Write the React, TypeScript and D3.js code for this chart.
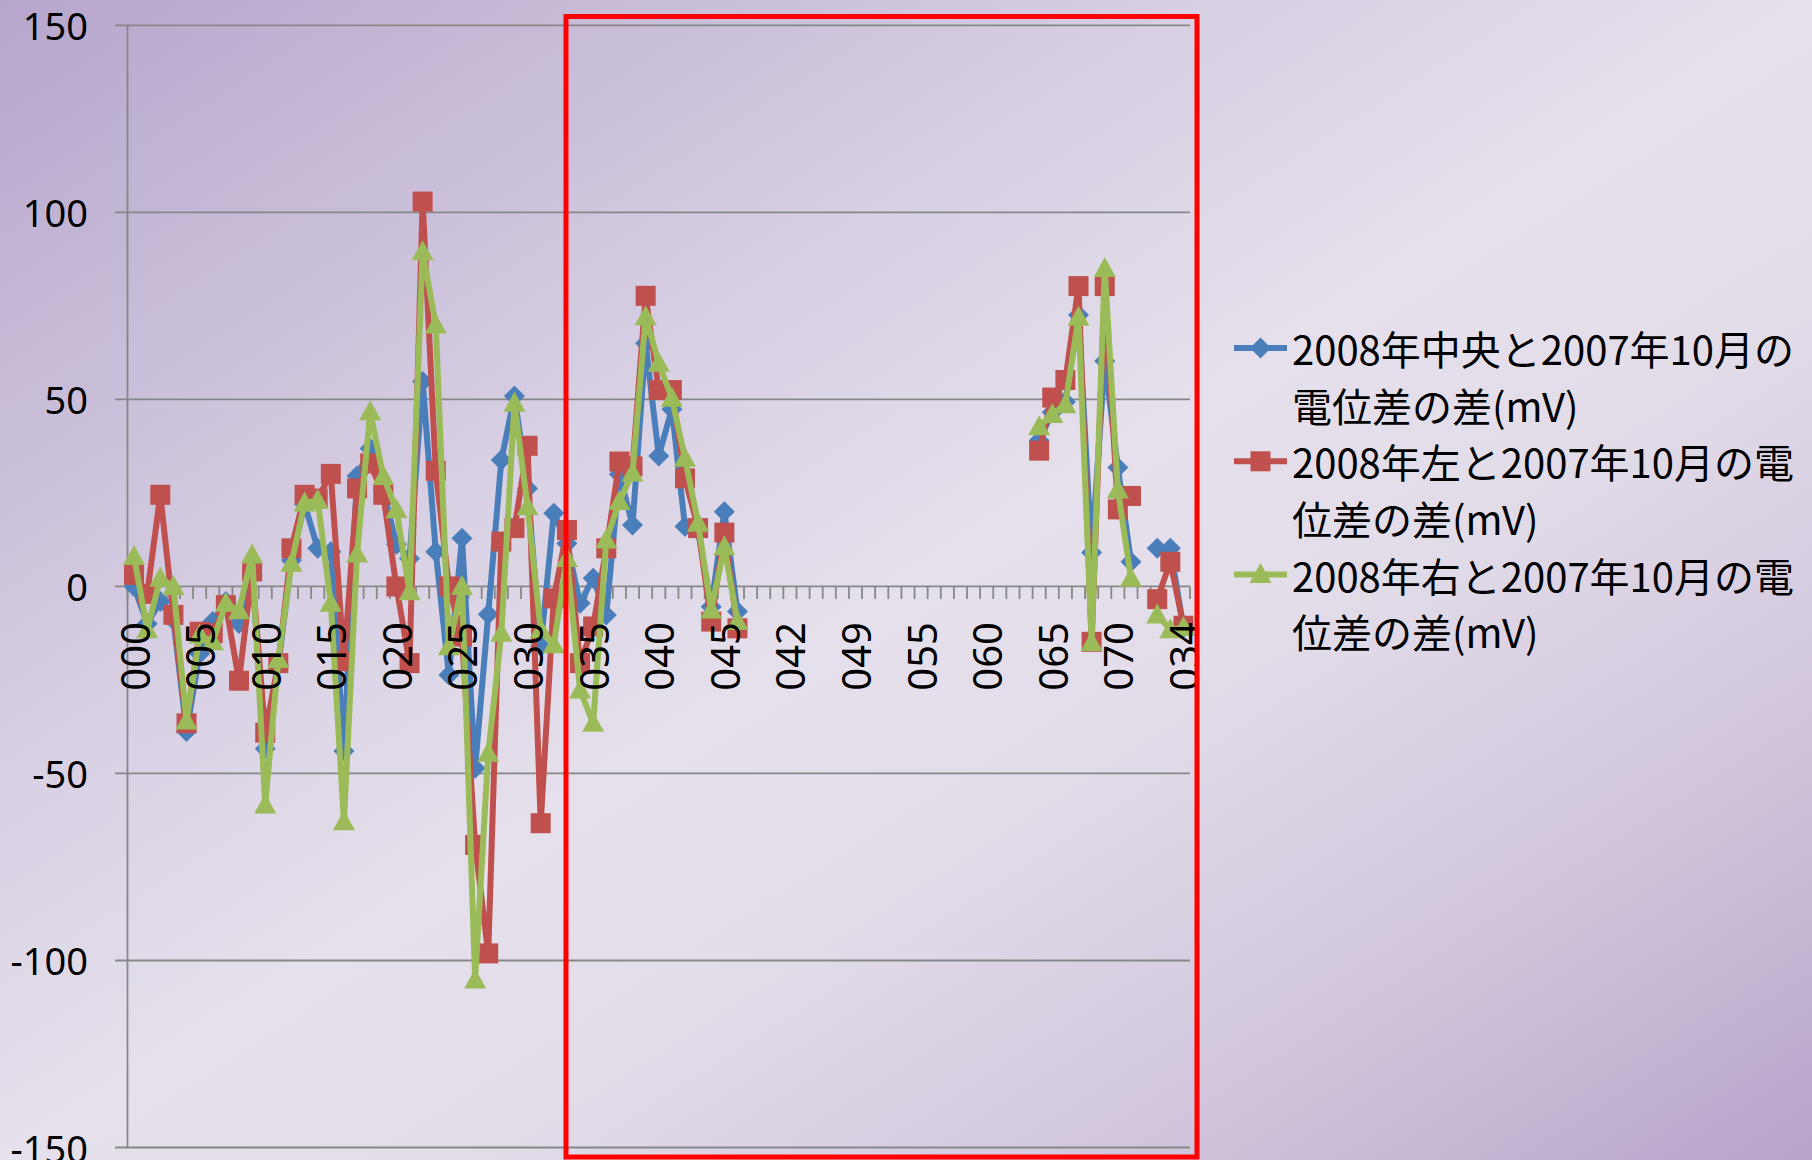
import React from "react";
import * as d3 from "d3";

// Category names along the horizontal axis (every fifth one is labelled)
const categoryLabels: string[] = [
  "000", "001", "002", "003", "004", "005", "006", "007", "008", "009",
  "010", "011", "012", "013", "014", "015", "016", "017", "018", "019",
  "020", "021", "022", "023", "024", "025", "026", "027", "028", "029",
  "030", "031", "032", "033", "034", "035", "036", "037", "038", "039",
  "040", "041", "042", "043", "044", "045", "046", "047", "040", "041",
  "042", "043", "045", "046", "048", "049", "050", "051", "052", "053",
  "055", "056", "057", "058", "059", "060", "061", "062", "063", "064",
  "065", "066", "067", "068", "069", "070", "071", "072", "073", "074",
  "034",
];

// 2008年中央と2007年10月の電位差の差(mV)
const centerDiff: (number | null)[] = [
  0, -10, -4, -9, -38.8, -18, -9.4, -4, -9.9, 3,
  -43.4, -21, 7, 22, 10.2, 9.3, -44, 29.5, 36.9, 26,
  11.3, 7.5, 54.8, 9.3, -23.7, 12.9, -48.6, -7.4, 33.8, 50.9,
  26.2, -16, 19.6, 11.5, -4.5, 2.2, -7.6, 30, 16.4, 65,
  34.9, 47.4, 16, 15, -5.4, 20, -6.7, null, null, null,
  null, null, null, null, null, null, null, null, null, null,
  null, null, null, null, null, null, null, null, null, 39,
  46.6, 49.4, 72.6, 9.1, 60.3, 31.8, 6.6, null, 10.2, 10.2,
  -11,
];

// 2008年左と2007年10月の電位差の差(mV)
const leftDiff: (number | null)[] = [
  3.1, -2, 24.5, -7.6, -36.6, -12.1, -12.5, -5, -25.2, 4,
  -39.1, -20.5, 10.2, 24.5, 23.5, 30.1, -20, 26.2, 32.9, 24.5,
  0, -20.5, 102.9, 30.9, 0, -13.4, -69.1, -98.1, 12, 15.6,
  37.6, -63.3, -3.2, 15.1, -20.5, -10.7, 10.2, 33.4, 32.1, 77.7,
  52.5, 52.5, 28.9, 15.6, -9.4, 14.4, -11.2, null, null, null,
  null, null, null, null, null, null, null, null, null, null,
  null, null, null, null, null, null, null, null, null, 36.3,
  50.5, 55.2, 80.3, -14.8, 80.3, 20.6, 24.2, null, -3.4, 6.6,
  -10.5,
];

// 2008年右と2007年10月の電位差の差(mV)
const rightDiff: (number | null)[] = [
  8, -11.6, 2.2, 0, -36, -13, -14.8, -4.5, -6.5, 8.4,
  -58.4, -19.5, 6.2, 22.3, 23, -4.5, -62.9, 8.7, 46.7, 29.4,
  20.5, -1.4, 89.5, 69.9, -16.1, 0, -105.2, -44.6, -12.5, 49,
  21.3, -11.6, -15.6, 7.5, -27.7, -36.6, 12.4, 22.7, 30.3, 72.1,
  59.7, 50.3, 34.3, 16.9, -6.3, 10.6, -9.4, null, null, null,
  null, null, null, null, null, null, null, null, null, null,
  null, null, null, null, null, null, null, null, null, 42.7,
  46, 48.6, 72, -15, 85, 25.8, 2.2, null, -7.6, -11.6,
  -11,
];

const yTickValues: number[] = [150, 100, 50, 0, -50, -100, -150];

const seriesNames: string[][] = [
  ["2008年中央と2007年10月の", "電位差の差(mV)"],
  ["2008年左と2007年10月の電", "位差の差(mV)"],
  ["2008年右と2007年10月の電", "位差の差(mV)"],
];

const W = 1812;
const H = 1160;
const plot = { left: 127.5, right: 1190, top: 25.4, bottom: 1147.5 };

type MarkerKind = "diamond" | "square" | "triangle";

function markerPath(kind: MarkerKind, cx: number, cy: number): string {
  if (kind === "diamond") {
    const r = 10.5;
    return `M${cx},${cy - r}L${cx + r},${cy}L${cx},${cy + r}L${cx - r},${cy}Z`;
  }
  if (kind === "square") {
    const h = 10;
    return `M${cx - h},${cy - h}H${cx + h}V${cy + h}H${cx - h}Z`;
  }
  const hw = 11;
  return `M${cx},${cy - 11.5}L${cx + hw},${cy + 8.5}L${cx - hw},${cy + 8.5}Z`;
}

const series: { values: (number | null)[]; color: string; marker: MarkerKind }[] = [
  { values: centerDiff, color: "#4A7EBB", marker: "diamond" },
  { values: leftDiff, color: "#C0504D", marker: "square" },
  { values: rightDiff, color: "#9BBB59", marker: "triangle" },
];

export default function App() {
  const x = d3
    .scaleBand<number>()
    .domain(d3.range(categoryLabels.length))
    .range([plot.left, plot.right])
    .paddingInner(0)
    .paddingOuter(0);
  const y = d3.scaleLinear().domain([-150, 150]).range([plot.bottom, plot.top]);
  const cx = (i: number) => (x(i) as number) + x.bandwidth() / 2;

  const lineGen = d3
    .line<number | null>()
    .defined((d) => d !== null)
    .x((_, i) => cx(i))
    .y((d) => y(d as number));

  const y0 = y(0);
  const tickXs = d3.range(categoryLabels.length + 1).map((k) => plot.left + k * x.step());
  const gridColor = "#878787";
  const axisFont = "'Noto Sans', 'DejaVu Sans', sans-serif";
  const legendFont = "'Noto Sans CJK JP', 'Noto Sans', sans-serif";

  return (
    <svg
      width={W}
      height={H}
      viewBox={`0 0 ${W} ${H}`}
      style={{ position: "absolute", left: 0, top: 0, display: "block" }}
    >
      <defs>
        <linearGradient id="bg" x1="0" y1="0" x2="1" y2="1">
          <stop offset="0" stopColor="#B6A6CC" />
          <stop offset="0.35" stopColor="#D9D1E4" />
          <stop offset="0.5" stopColor="#E5E0EB" />
          <stop offset="0.62" stopColor="#E3DDE9" />
          <stop offset="0.82" stopColor="#D0C4DC" />
          <stop offset="1" stopColor="#B6A4CA" />
        </linearGradient>
      </defs>
      <rect x={0} y={0} width={W} height={H} fill="url(#bg)" />

      {/* horizontal gridlines with outside tick marks */}
      {yTickValues.map((v) => (
        <line
          key={`g${v}`}
          x1={plot.left - 12.5}
          x2={plot.right}
          y1={y(v)}
          y2={y(v)}
          stroke={gridColor}
          strokeWidth={1.8}
        />
      ))}
      {/* vertical axis */}
      <line x1={plot.left} x2={plot.left} y1={plot.top} y2={plot.bottom} stroke={gridColor} strokeWidth={1.8} />
      {/* category tick marks on the zero line */}
      {tickXs.map((tx, k) => (
        <line key={`t${k}`} x1={tx} x2={tx} y1={y0} y2={y0 + 12.5} stroke={gridColor} strokeWidth={1.8} />
      ))}

      {/* value labels */}
      {yTickValues.map((v) => (
        <text
          key={`yl${v}`}
          x={88}
          y={y(v)}
          textAnchor="end"
          dominantBaseline="central"
          fontFamily={axisFont}
          fontSize={38}
          fill="#000"
        >
          {v}
        </text>
      ))}

      {/* series lines and markers */}
      {series.map((s, si) => (
        <g key={`s${si}`}>
          <path
            d={lineGen(s.values) || ""}
            fill="none"
            stroke={s.color}
            strokeWidth={6}
            strokeLinejoin="round"
            strokeLinecap="round"
          />
          {s.values.map((v, i) =>
            v === null ? null : <path key={`m${i}`} d={markerPath(s.marker, cx(i), y(v))} fill={s.color} />
          )}
        </g>
      ))}

      {/* category labels, every fifth, drawn above the series */}
      {categoryLabels.map((lab, i) =>
        i % 5 === 0 ? (
          <text
            key={`xl${i}`}
            transform={`translate(${cx(i)},${622}) rotate(-90)`}
            textAnchor="end"
            dominantBaseline="central"
            fontFamily={axisFont}
            fontSize={40}
            fill="#000"
          >
            {lab}
          </text>
        ) : null
      )}

      {/* highlight frame */}
      <rect x={566} y={16.5} width={631} height={1140.5} fill="none" stroke="#FF0000" strokeWidth={5} />

      {/* legend */}
      {series.map((s, si) => {
        const ly = 348 + si * 113.3;
        return (
          <g key={`lg${si}`}>
            <line x1={1234} x2={1287} y1={ly} y2={ly} stroke={s.color} strokeWidth={6} />
            <path d={markerPath(s.marker, 1260.5, ly)} fill={s.color} />
            {seriesNames[si].map((t, li) => (
              <text
                key={`lt${li}`}
                x={1292}
                y={ly + li * 56.6}
                dominantBaseline="central"
                fontFamily={legendFont}
                fontSize={40}
                fill="#000"
              >
                {t}
              </text>
            ))}
          </g>
        );
      })}
    </svg>
  );
}
